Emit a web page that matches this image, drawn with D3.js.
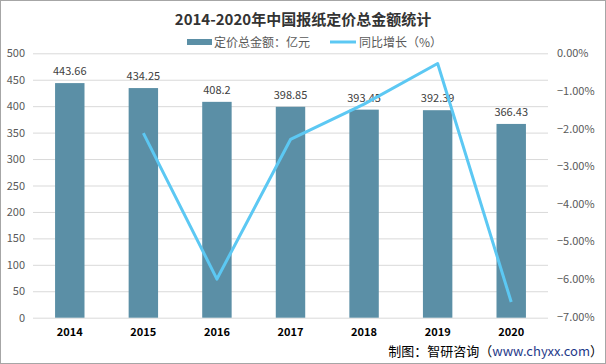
<!DOCTYPE html>
<html><head><meta charset="utf-8">
<script src="https://cdn.jsdelivr.net/npm/d3@7"></script>
<style>body{margin:0;background:#fff;font-family:"Microsoft YaHei","Noto Sans CJK SC",sans-serif}</style>
</head><body>
<svg id="c" width="606" height="364"></svg>
<script>
const years = ["2014","2015","2016","2017","2018","2019","2020"];
const amounts = [443.66,434.25,408.2,398.85,393.45,392.39,366.43];
const growth = [null,-2.12,-6.00,-2.29,-1.35,-0.27,-6.61];
const leftTicks = [0,50,100,150,200,250,300,350,400,450,500];
const rightTicks = [0,-1,-2,-3,-4,-5,-6,-7];

const svg = d3.select("#c");
const font = '"Noto Sans CJK SC", sans-serif';
svg.append("rect").attr("x",0.5).attr("y",0.5).attr("width",605).attr("height",363)
  .attr("fill","#fff").attr("stroke","#a6a6a6");

const x = d3.scaleBand().domain(years).range([33,548]).paddingInner(0.6).paddingOuter(0.3);
const y = d3.scaleLinear().domain([0,500]).range([317.7,53.3]);
const y2 = d3.scaleLinear().domain([-7,0]).range([316.7,53.3]);

// grid
svg.append("g").selectAll("line").data(leftTicks).join("line")
  .attr("x1",33).attr("x2",548).attr("y1",d=>y(d)+0.5).attr("y2",d=>y(d)+0.5)
  .attr("stroke","#d9d9d9").attr("stroke-width",1);

// left axis labels
const la = svg.append("g").attr("transform","translate(25,0)")
  .call(d3.axisLeft(y).tickValues(leftTicks).tickSize(0).tickPadding(0));
la.select(".domain").remove();
la.selectAll("text").attr("fill","#595959").style("font-size","11px").style("font-family",font);

// right axis labels
const ra = svg.append("g").attr("transform","translate(557,0)")
  .call(d3.axisRight(y2).tickValues(rightTicks).tickSize(0).tickPadding(0).tickFormat(d=>d3.format(".2f")(d)+"%"));
ra.select(".domain").remove();
ra.selectAll("text").attr("fill","#595959").style("font-size","11px").style("font-family",font);

// bars
svg.append("g").selectAll("rect").data(amounts).join("rect")
  .attr("x",(d,i)=>x(years[i])).attr("width",x.bandwidth())
  .attr("y",d=>y(d)).attr("height",d=>y(0)-y(d)).attr("fill","#5b8fa6");

// bar value labels
svg.append("g").selectAll("text").data(amounts).join("text")
  .attr("x",(d,i)=>x(years[i])+x.bandwidth()/2).attr("y",d=>y(d)-8)
  .attr("text-anchor","middle").attr("fill","#404040").style("font-size","11px").style("font-family",font)
  .text(d=>d);

// x labels
svg.append("g").selectAll("text").data(years).join("text")
  .attr("x",d=>x(d)+x.bandwidth()/2).attr("y",336)
  .attr("text-anchor","middle").attr("fill","#000").style("font-size","11px").style("font-weight","bold")
  .style("font-family",font).text(d=>d);

// line
const pts = growth.map((g,i)=>({g,yr:years[i]})).filter(d=>d.g!==null);
svg.append("path").datum(pts)
  .attr("d",d3.line().x(d=>x(d.yr)+x.bandwidth()/2).y(d=>y2(d.g)))
  .attr("fill","none").attr("stroke","#5cc8f3").attr("stroke-width",3).attr("stroke-linejoin","round");

// title
svg.append("text").attr("x",303).attr("y",25).attr("text-anchor","middle")
  .style("font-size","15px").style("font-weight","bold").attr("fill","#333")
  .style("font-family",font).text("2014-2020年中国报纸定价总金额统计");

// legend
svg.append("rect").attr("x",187).attr("y",39).attr("width",25).attr("height",6).attr("fill","#5b8fa6");
svg.append("text").attr("x",214).attr("y",46.5).style("font-size","12px").attr("fill","#595959")
  .style("font-family",font).text("定价总金额：亿元");
svg.append("line").attr("x1",330).attr("x2",356).attr("y1",42).attr("y2",42)
  .attr("stroke","#5cc8f3").attr("stroke-width",3);
svg.append("text").attr("x",359).attr("y",46.5).style("font-size","12px").attr("fill","#595959")
  .style("font-family",font).text("同比增长（%）");

// footer
const ft = svg.append("text").attr("x",603).attr("y",356).attr("text-anchor","end")
  .style("font-size","13px").attr("fill","#000").style("font-family",font);
ft.append("tspan").text("制图：智研咨询（");
ft.append("tspan").attr("fill","#1f3a8a").text("www.chyxx.com");
ft.append("tspan").text("）");
</script>
</body></html>
